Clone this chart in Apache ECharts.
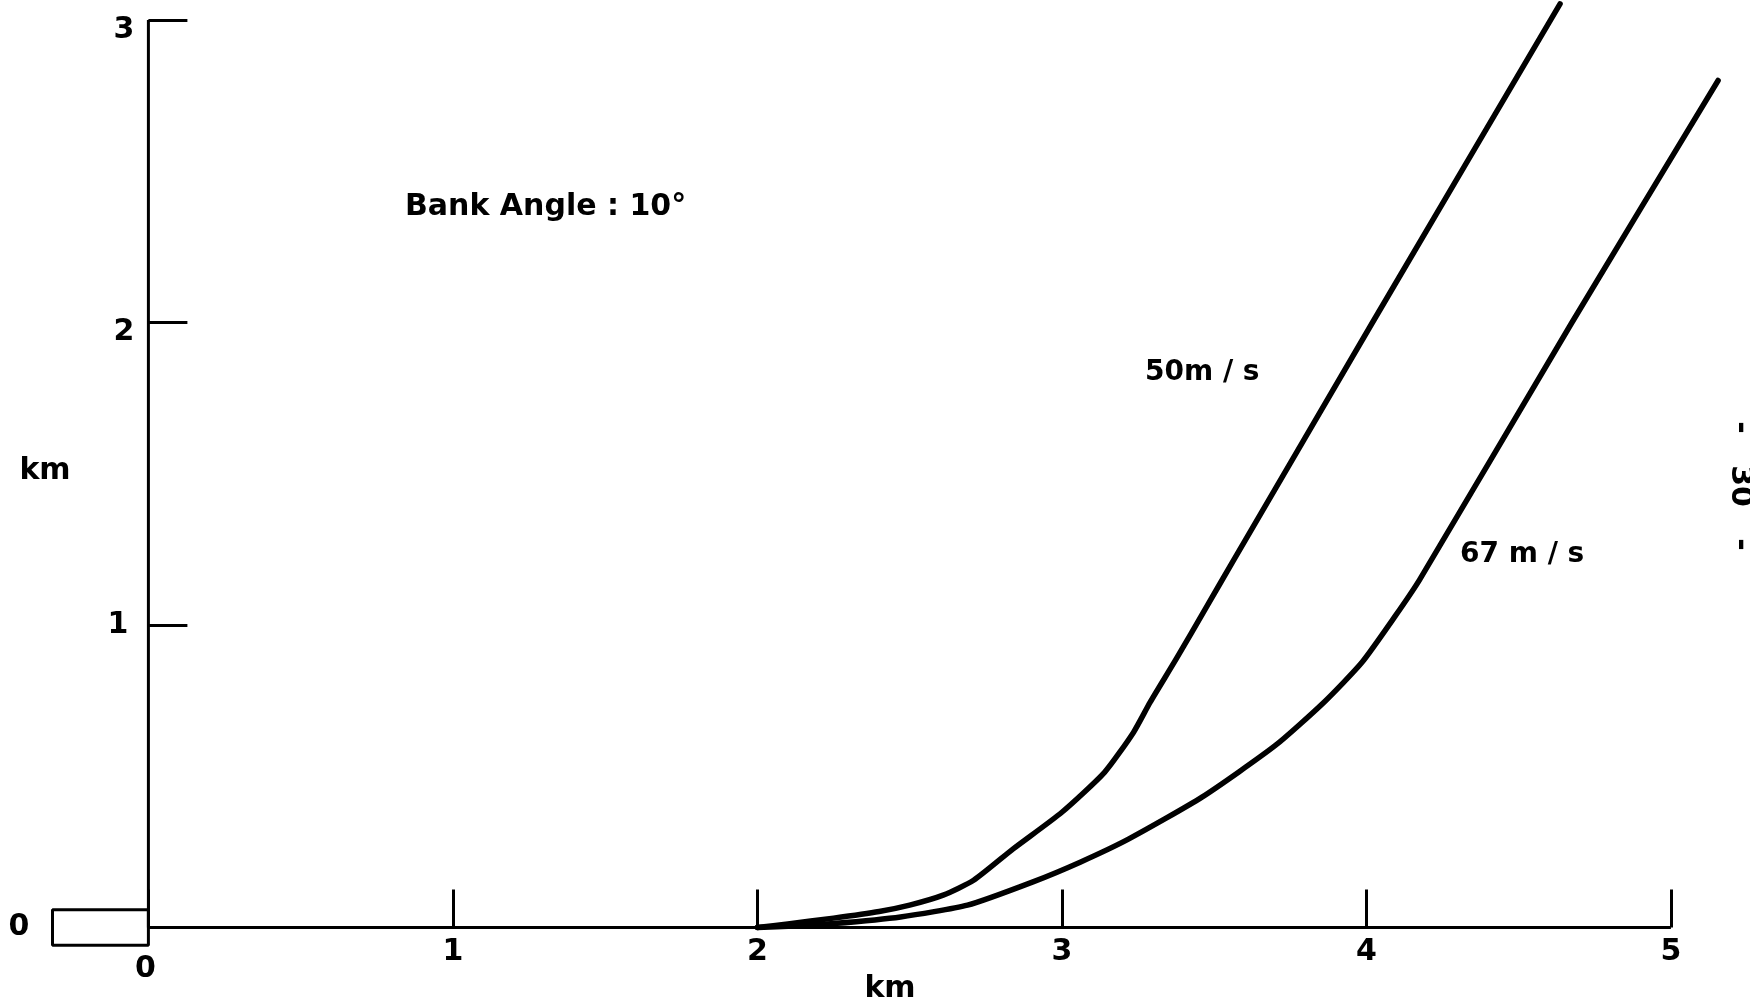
<!DOCTYPE html>
<html>
<head>
<meta charset="utf-8">
<title>Bank Angle 10° climb-out paths</title>
<script src="https://cdn.jsdelivr.net/npm/echarts@6/dist/echarts.min.js"></script>
<style>
  html, body { margin: 0; padding: 0; background: #fff; }
  #chart { width: 1750px; height: 1005px; }
</style>
</head>
<body>
<div id="chart"></div>
<script>
// Horizontal distance (km) and height (km) of the flight path for two airspeeds
const speed50X = [2.00, 2.10, 2.25, 2.40, 2.50, 2.61, 2.71, 2.84, 3.00, 3.14, 3.235, 3.29, 3.375, 3.475, 3.565, 4.02, 4.636];
const speed50Y = [0.00, 0.012, 0.031, 0.053, 0.074, 0.107, 0.156, 0.26, 0.381, 0.513, 0.645, 0.745, 0.887, 1.06, 1.216, 2.00, 3.053];

const speed67X = [2.00, 2.12, 2.25, 2.47, 2.69, 2.905, 3.06, 3.22, 3.46, 3.70, 3.86, 3.985, 4.095, 4.175, 4.675, 5.155];
const speed67Y = [0.00, 0.005, 0.013, 0.035, 0.074, 0.151, 0.216, 0.293, 0.431, 0.601, 0.744, 0.876, 1.03, 1.15, 2.00, 2.80];

// Runway block drawn left of the origin
const runwayX = [0, -0.315, -0.315, 0, 0];
const runwayY = [0.059, 0.059, -0.059, -0.059, 0.059];

const xTicks = [0, 1, 2, 3, 4, 5];
const yTicks = [0, 1, 2, 3];

const FONT = '"DejaVu Sans", "Liberation Sans", sans-serif';
const zip = (xs, ys) => xs.map((x, i) => [x, ys[i]]);

const xFirst = xTicks[0], xLast = xTicks[xTicks.length - 1];
const yFirst = yTicks[0], yLast = yTicks[yTicks.length - 1];
// Axis frame: x axis from 0 to 5 km, y axis from 0 to 3 km
const frameData = [[xLast, yFirst], [xFirst, yFirst], [xFirst, yLast]];

// Plot window: a little wider than the ticked range so the paths and the runway stay visible
const X_MIN = -0.4, X_MAX = 5.2, Y_MIN = -0.1, Y_MAX = 3.06;
const GRID = { left: 26.6, right: 18.2, top: 1.85, bottom: 47.25 };
const W = 1750, H = 1005;
// pixel positions of the zero lines, used to set the tick labels next to the axes
const pxPerX = (W - GRID.left - GRID.right) / (X_MAX - X_MIN);
const pxPerY = (H - GRID.top - GRID.bottom) / (Y_MAX - Y_MIN);
const zeroXpx = GRID.left + (0 - X_MIN) * pxPerX;          // y axis position
const zeroYpx = GRID.top + (Y_MAX - 0) * pxPerY;           // x axis position
const gridBottomPx = H - GRID.bottom;

const chart = echarts.init(document.getElementById('chart'), null, { renderer: 'canvas' });

const black = '#000';
const curveStyle = { color: black, width: 5.5, cap: 'round', join: 'round' };
const frameStyle = { color: black, width: 3 };
const tickStyle = { color: black, width: 3 };
// the built-in axis lines span the whole plot window, so they are kept transparent
// and the 0–5 / 0–3 frame is drawn as its own series
const hiddenAxisLine = { show: true, onZero: true, lineStyle: { color: black, opacity: 0 } };
const labelFont = { fontSize: 30, fontFamily: FONT, fontWeight: 'bold', color: black };

chart.setOption({
  backgroundColor: '#fff',
  animation: false,
  grid: Object.assign({ containLabel: false, outerBoundsMode: 'none' }, GRID),
  xAxis: {
    type: 'value',
    min: X_MIN,
    max: X_MAX,
    splitLine: { show: false },
    axisLine: hiddenAxisLine,
    axisTick: { show: true, inside: true, length: 38, customValues: xTicks, lineStyle: tickStyle },
    axisLabel: Object.assign({
      customValues: xTicks,
      // labels sit 10px under the x axis line
      margin: (zeroYpx + 10) - gridBottomPx,
      formatter: v => (v === 0 ? '{lo|0}' : String(v)),
      rich: { lo: Object.assign({ padding: [17, 6, 0, 0] }, labelFont) }
    }, labelFont)
  },
  yAxis: {
    type: 'value',
    min: Y_MIN,
    max: Y_MAX,
    splitLine: { show: false },
    axisLine: hiddenAxisLine,
    axisTick: { show: true, inside: true, length: 39, customValues: yTicks, lineStyle: tickStyle },
    axisLabel: Object.assign({
      customValues: yTicks,
      // labels end 14px left of the y axis line
      margin: GRID.left - (zeroXpx - 14),
      formatter: v => {
        if (v === 0) return '{far|0}';
        if (v === 1) return '{one|1}';
        return '{dn|' + v + '}';
      },
      rich: {
        far: Object.assign({ padding: [0, 105, 0, 0] }, labelFont),
        one: Object.assign({ padding: [0, 6, 0, 0] }, labelFont),
        dn: Object.assign({ padding: [20, 0, 0, 0] }, labelFont)
      }
    }, labelFont)
  },
  series: [
    {
      name: 'axes',
      type: 'line',
      data: frameData,
      showSymbol: false,
      silent: true,
      lineStyle: frameStyle
    },
    {
      name: 'runway',
      type: 'line',
      data: zip(runwayX, runwayY),
      showSymbol: false,
      silent: true,
      lineStyle: frameStyle
    },
    {
      name: '50 m/s',
      type: 'line',
      data: zip(speed50X, speed50Y),
      showSymbol: false,
      smooth: 0.2,
      lineStyle: curveStyle
    },
    {
      name: '67 m/s',
      type: 'line',
      data: zip(speed67X, speed67Y),
      showSymbol: false,
      smooth: 0.2,
      lineStyle: curveStyle
    }
  ],
  graphic: [
    { type: 'text', x: 405, y: 207, style: { text: 'Bank Angle : 10°', fontSize: 30, fontWeight: 'bold', fontFamily: FONT, fill: black, align: 'left', verticalAlign: 'middle' } },
    { type: 'text', x: 1145, y: 373, style: { text: '50m / s', fontSize: 28, fontWeight: 'bold', fontFamily: FONT, fill: black, align: 'left', verticalAlign: 'middle' } },
    { type: 'text', x: 1460, y: 555, style: { text: '67 m / s', fontSize: 28, fontWeight: 'bold', fontFamily: FONT, fill: black, align: 'left', verticalAlign: 'middle' } },
    { type: 'text', x: 45, y: 471, style: { text: 'km', fontSize: 30, fontWeight: 'bold', fontFamily: FONT, fill: black, align: 'center', verticalAlign: 'middle' } },
    { type: 'text', x: 890, y: 989, style: { text: 'km', fontSize: 30, fontWeight: 'bold', fontFamily: FONT, fill: black, align: 'center', verticalAlign: 'middle' } },
    { type: 'text', x: 1740, y: 486, rotation: -Math.PI / 2, style: { text: '-   30   -', fontSize: 30, fontWeight: 'bold', fontFamily: FONT, fill: black, align: 'center', verticalAlign: 'middle' } }
  ]
});
</script>
</body>
</html>
